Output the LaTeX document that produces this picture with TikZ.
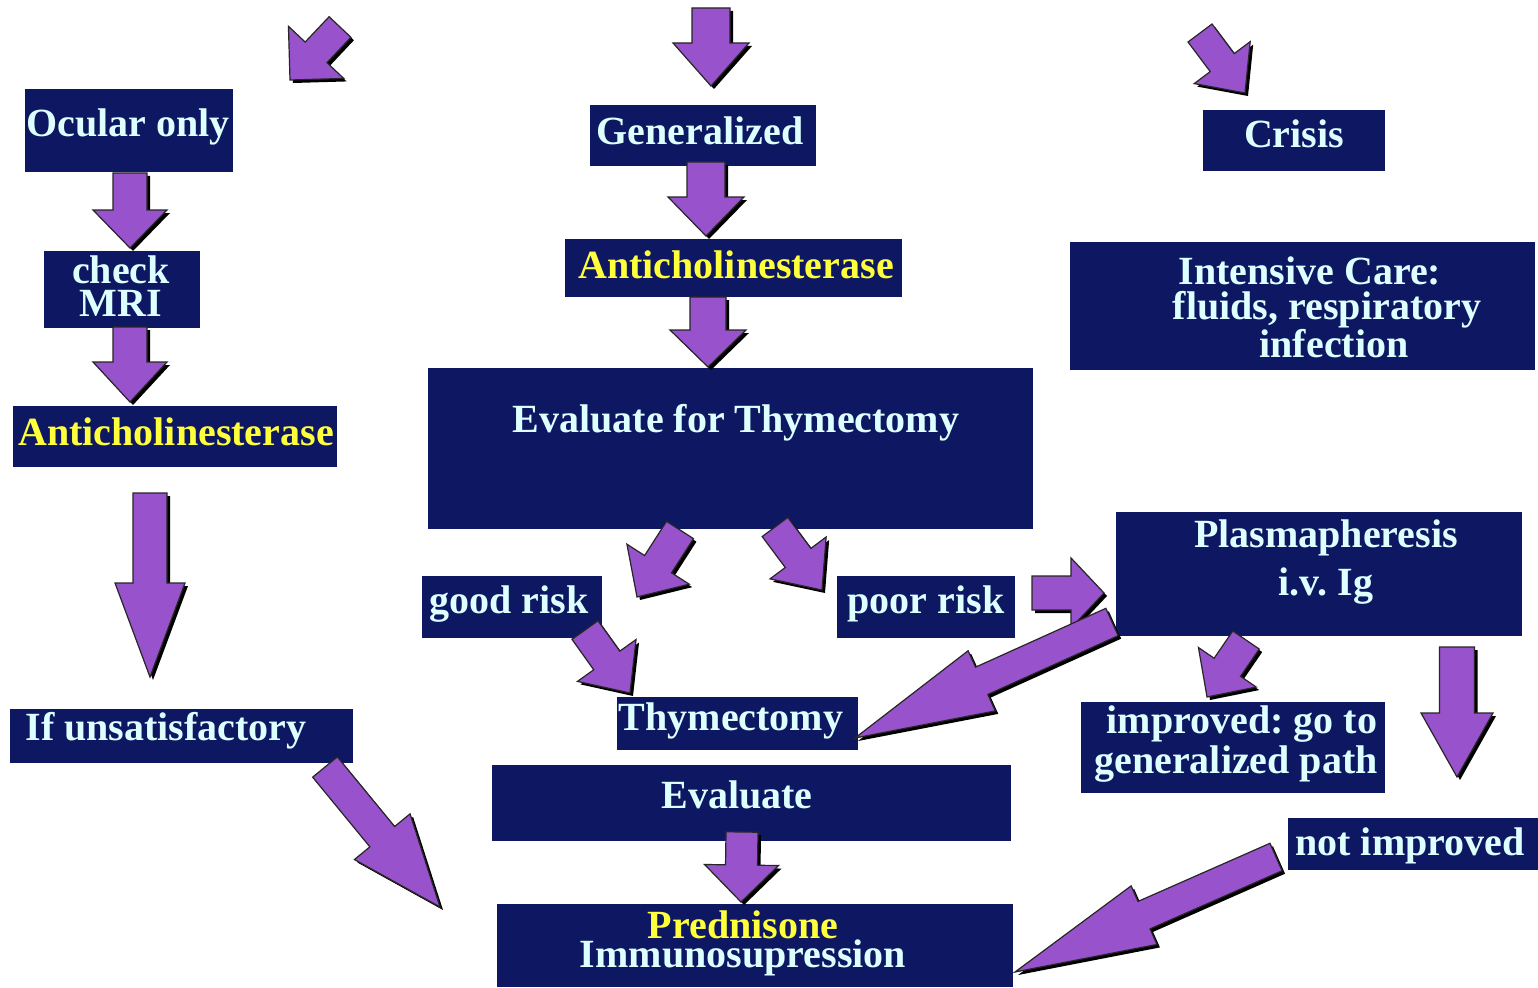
\documentclass[tikz,border=0pt]{standalone}
\usepackage{fontspec}
\setmainfont{Liberation Serif}
\usetikzlibrary{calc}
\frenchspacing
\definecolor{boxnavy}{RGB}{14,24,98}
\definecolor{txtlight}{RGB}{222,255,255}
\definecolor{txtyellow}{RGB}{255,255,60}
\definecolor{arrowfill}{RGB}{152,82,204}
\tikzset{
  box/.style={rectangle, fill=boxnavy, inner sep=0pt},
  txt/.style={anchor=base, text=txtlight, font=\bfseries\frenchspacing\fontsize{40}{40}\selectfont, inner sep=0pt, align=center},
  ytxt/.style={txt, text=txtyellow},
  blockarr/.style={fill=arrowfill, draw=black!85, line width=1.2pt, line join=miter,
    preaction={fill=black, transform canvas={shift={(3pt,-3pt)}}}}
}
\newcommand\blockarrow[5]{%
  \coordinate (bah) at ($(#2)!#5pt!(#1)$);
  \path[blockarr] ($(#1)!#3pt!90:(#2)$) -- ($(bah)!#3pt!90:(#2)$) -- ($(bah)!#4pt!90:(#2)$) -- (#2)
    -- ($(bah)!#4pt!-90:(#2)$) -- ($(bah)!#3pt!-90:(#2)$) -- ($(#1)!#3pt!-90:(#2)$) -- cycle;
}
\begin{document}
\begin{tikzpicture}[x=1pt,y=-1pt]
\useasboundingbox (0,0) rectangle (1538,987);
\fill[white] (0,0) rectangle (1538,987);

% boxes
\node[box, minimum width=208pt, minimum height=83pt] (ocular) at (129,130.5) {};
\node[box, minimum width=156pt, minimum height=77pt] (mri) at (122,289.5) {};
\node[box, minimum width=324pt, minimum height=61pt] (antiL) at (175,436.5) {};
\node[box, minimum width=343pt, minimum height=54pt] (unsat) at (181.5,736) {};
\node[box, minimum width=226pt, minimum height=61pt] (gen) at (703,135.5) {};
\node[box, minimum width=337pt, minimum height=58pt] (antiC) at (733.5,268) {};
\node[box, minimum width=605pt, minimum height=161pt] (evalthy) at (730.5,448.5) {};
\node[box, minimum width=180pt, minimum height=62pt] (good) at (512,607) {};
\node[box, minimum width=178pt, minimum height=62pt] (poor) at (926,607) {};
\node[box, minimum width=241pt, minimum height=53pt] (thym) at (737.5,723.5) {};
\node[box, minimum width=519pt, minimum height=76pt] (evaluate) at (751.5,803) {};
\node[box, minimum width=516pt, minimum height=83pt] (pred) at (755,945.5) {};
\node[box, minimum width=182pt, minimum height=61pt] (crisis) at (1294,140.5) {};
\node[box, minimum width=465pt, minimum height=128pt] (icu) at (1302.5,306) {};
\node[box, minimum width=406pt, minimum height=124pt] (plasma) at (1319,574) {};
\node[box, minimum width=304pt, minimum height=91pt] (improved) at (1233,747.5) {};
\node[box, minimum width=250pt, minimum height=52pt] (notimp) at (1413,844) {};

% texts (base anchor = baseline of the last line)
\node[txt] (t1) at (128,137) {Ocular only};
\node[txt, font=\bfseries\fontsize{40}{33}\selectfont] (t2) at (121,316) {check\\MRI};
\node[ytxt] (t4) at (176,445) {Anticholinesterase};
\node[txt] (t5) at (166,740) {If unsatisfactory};
\node[txt] (t6) at (700,145) {Generalized};
\node[ytxt] (t7) at (736,278) {Anticholinesterase};
\node[txt] (t8) at (736,432) {Evaluate for Thymectomy};
\node[txt] (t9) at (509,613) {good risk};
\node[txt] (t10) at (926,613) {poor risk};
\node[txt] (t11) at (731,730) {Thymectomy};
\node[txt] (t12) at (737,808) {Evaluate};
\node[txt, font=\bfseries\fontsize{40}{29}\selectfont] (t13) at (743,967) {\textcolor{txtyellow}{Prednisone}\\Immunosupression};
\node[txt] (t15) at (1294,148) {Crisis};
\node[txt, font=\bfseries\fontsize{40}{35}\selectfont] (t16) at (1327,357) {Intensive Care:\hspace*{34pt}\\fluids, respiratory\\\hspace*{14pt}infection};
\node[txt, font=\bfseries\fontsize{40}{48}\selectfont] (t19) at (1326,595) {Plasmapheresis\\i.v. Ig};
\node[txt] (t21) at (1236,773) {\hspace*{12pt}improved: go to\\generalized path};
\node[txt] (t23) at (1410,855) {not improved};

% arrow end points
\coordinate (a1t) at (340,27);   \coordinate (a1h) at (290,80);
\coordinate (a2t) at (711,8);    \coordinate (a2h) at (711,86);
\coordinate (a3t) at (1200,33);  \coordinate (a3h) at (1245,93);
\coordinate (a4t) at (130,173);  \coordinate (a4h) at (130,248);
\coordinate (a5t) at (130,327);  \coordinate (a5h) at (130,402);
\coordinate (a6t) at (706,162);  \coordinate (a6h) at (706,236);
\coordinate (a7t) at (708,297);  \coordinate (a7h) at (708,367);
\coordinate (a8t) at (150,493);  \coordinate (a8h) at (150,677);
\coordinate (a9t) at (325,767);  \coordinate (a9h) at (440,907);
\coordinate (a10t) at (680,530); \coordinate (a10h) at (637,597);
\coordinate (a11t) at (775,527); \coordinate (a11h) at (822,590);
\coordinate (a12t) at (585,630); \coordinate (a12h) at (630,693);
\coordinate (a13t) at (1032,593);\coordinate (a13h) at (1104,593);
\coordinate (a14t) at (1112,622);\coordinate (a14h) at (855,738);
\coordinate (a15t) at (1246,640);\coordinate (a15h) at (1207,697);
\coordinate (a16t) at (1457,647);\coordinate (a16h) at (1457,777);
\coordinate (a17t) at (742,832); \coordinate (a17h) at (741,902);
\coordinate (a18t) at (1276,857);\coordinate (a18h) at (1015,972);

% block arrows
\blockarrow{a1t}{a1h}{15}{38}{38}
\blockarrow{a2t}{a2h}{19}{38}{43}
\blockarrow{a3t}{a3h}{15}{35}{38}
\blockarrow{a4t}{a4h}{17}{37}{38}
\blockarrow{a5t}{a5h}{17}{37}{40}
\blockarrow{a6t}{a6h}{19}{38}{39}
\blockarrow{a7t}{a7h}{18}{38}{37}
\blockarrow{a8t}{a8h}{17}{35}{94}
\blockarrow{a9t}{a9h}{16}{36}{91}
\blockarrow{a10t}{a10h}{16}{37}{39}
\blockarrow{a11t}{a11h}{16}{35}{40}
\blockarrow{a12t}{a12h}{16}{36}{40}
\blockarrow{a13t}{a13h}{17}{35}{33}
\blockarrow{a14t}{a14h}{15}{33}{139}
\blockarrow{a15t}{a15h}{16}{35}{36}
\blockarrow{a16t}{a16h}{17.5}{36}{64}
\blockarrow{a17t}{a17h}{16}{37}{37}
\blockarrow{a18t}{a18h}{15}{32}{141}
\end{tikzpicture}
\end{document}
